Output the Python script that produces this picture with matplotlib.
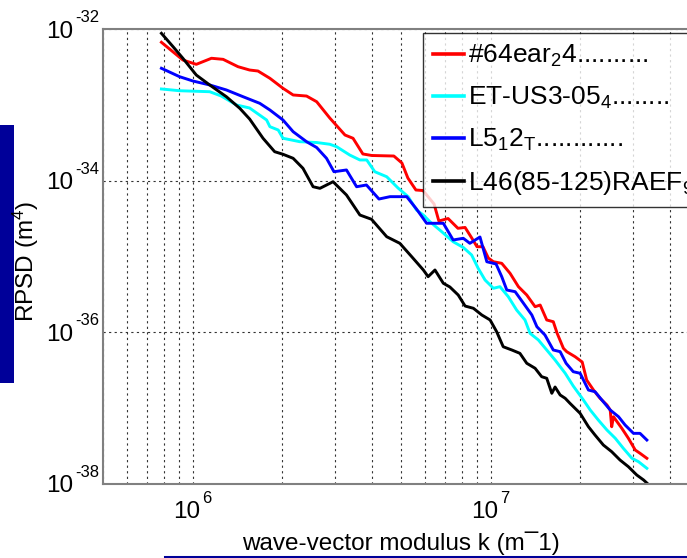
import numpy as np
import matplotlib
matplotlib.use("Agg")
import matplotlib.pyplot as plt
from matplotlib.patches import Rectangle
from matplotlib.lines import Line2D
from matplotlib.ticker import FixedLocator, NullLocator, NullFormatter

plt.rcParams['font.family'] = ['Liberation Sans', 'DejaVu Sans']
plt.rcParams['mathtext.fontset'] = 'custom'
plt.rcParams['mathtext.rm'] = 'Liberation Sans'
plt.rcParams['mathtext.it'] = 'Liberation Sans:italic'
plt.rcParams['mathtext.bf'] = 'Liberation Sans:bold'

# ---- data (log10 of k [1/m] and log10 of RPSD [m^4]) ----
logk_red = [5.895, 5.967, 6.012, 6.063, 6.102, 6.152, 6.191, 6.219, 6.259, 6.303,
            6.337, 6.382, 6.416, 6.460, 6.511, 6.538, 6.571, 6.601, 6.675, 6.702,
            6.722, 6.749, 6.773, 6.810, 6.826, 6.857, 6.890, 6.914, 6.937, 6.954,
            6.974, 6.992, 7.009, 7.037, 7.065, 7.093, 7.121, 7.149, 7.166, 7.188,
            7.210, 7.223, 7.244, 7.255, 7.283, 7.307, 7.322, 7.345, 7.367, 7.390,
            7.401, 7.406, 7.412, 7.440, 7.462, 7.485, 7.501, 7.524]
logp_red = [-32.175, -32.409, -32.466, -32.386, -32.400, -32.497, -32.541, -32.554, -32.650, -32.782,
            -32.870, -32.884, -32.959, -33.174, -33.398, -33.441, -33.648, -33.668, -33.675, -33.767,
            -33.965, -34.123, -34.130, -34.308, -34.532, -34.499, -34.628, -34.617, -34.760, -34.871,
            -34.871, -35.020, -35.069, -35.090, -35.222, -35.398, -35.508, -35.662, -35.640, -35.837,
            -35.860, -36.013, -36.211, -36.255, -36.321, -36.391, -36.629, -36.761, -36.870, -36.958,
            -37.024, -37.245, -37.113, -37.266, -37.397, -37.552, -37.595, -37.661]

logk_cyan = [5.895, 5.956, 6.057, 6.096, 6.147, 6.191, 6.248, 6.259, 6.287, 6.303,
             6.332, 6.359, 6.416, 6.460, 6.483, 6.527, 6.561, 6.584, 6.611, 6.651,
             6.689, 6.723, 6.751, 6.774, 6.796, 6.833, 6.874, 6.908, 6.936, 6.958,
             6.981, 7.009, 7.031, 7.059, 7.087, 7.115, 7.132, 7.160, 7.188, 7.216,
             7.250, 7.277, 7.311, 7.334, 7.361, 7.390, 7.418, 7.445, 7.474, 7.496,
             7.524]
logp_cyan = [-32.791, -32.814, -32.827, -32.884, -33.002, -33.042, -33.200, -33.288, -33.332, -33.441,
             -33.464, -33.486, -33.497, -33.520, -33.552, -33.662, -33.727, -33.727, -33.882, -33.948,
             -34.097, -34.211, -34.387, -34.453, -34.541, -34.664, -34.805, -34.881, -34.980, -35.156,
             -35.310, -35.419, -35.398, -35.530, -35.706, -35.837, -36.013, -36.101, -36.233, -36.365,
             -36.540, -36.708, -36.892, -37.024, -37.156, -37.288, -37.397, -37.529, -37.661, -37.706,
             -37.793]

logk_blue = [5.895, 5.956, 6.001, 6.057, 6.113, 6.169, 6.225, 6.259, 6.303, 6.337,
             6.382, 6.416, 6.449, 6.474, 6.516, 6.550, 6.583, 6.625, 6.662, 6.718,
             6.751, 6.785, 6.841, 6.874, 6.908, 6.930, 6.964, 6.987, 7.018, 7.037,
             7.054, 7.082, 7.110, 7.138, 7.155, 7.182, 7.210, 7.233, 7.253, 7.277,
             7.300, 7.328, 7.350, 7.373, 7.401, 7.429, 7.451, 7.479, 7.501, 7.524]
logp_blue = [-32.518, -32.629, -32.686, -32.738, -32.804, -32.893, -32.980, -33.068, -33.200, -33.354,
             -33.486, -33.563, -33.705, -33.882, -33.859, -34.080, -34.057, -34.242, -34.211, -34.211,
             -34.374, -34.562, -34.562, -34.782, -34.760, -34.826, -34.743, -35.069, -35.099, -35.266,
             -35.442, -35.464, -35.617, -35.771, -35.926, -36.035, -36.233, -36.255, -36.408, -36.519,
             -36.540, -36.761, -36.783, -36.892, -37.024, -37.113, -37.222, -37.332, -37.332, -37.420]

logk_black = [5.895, 5.934, 5.967, 6.012, 6.057, 6.113, 6.158, 6.191, 6.236, 6.275,
              6.303, 6.337, 6.370, 6.404, 6.427, 6.471, 6.516, 6.561, 6.600, 6.651,
              6.695, 6.735, 6.774, 6.790, 6.813, 6.841, 6.863, 6.891, 6.914, 6.942,
              6.970, 6.998, 7.020, 7.042, 7.071, 7.098, 7.121, 7.149, 7.171, 7.188,
              7.205, 7.216, 7.233, 7.250, 7.266, 7.300, 7.328, 7.350, 7.378, 7.406,
              7.434, 7.462, 7.490, 7.513, 7.524]
logp_black = [-32.057, -32.233, -32.386, -32.607, -32.738, -32.893, -33.046, -33.187, -33.441, -33.618,
              -33.652, -33.705, -33.837, -34.080, -34.101, -34.014, -34.189, -34.453, -34.509, -34.739,
              -34.826, -35.003, -35.178, -35.266, -35.178, -35.353, -35.402, -35.508, -35.653, -35.683,
              -35.771, -35.837, -35.992, -36.190, -36.233, -36.277, -36.408, -36.474, -36.585, -36.606,
              -36.804, -36.721, -36.826, -36.870, -36.936, -37.068, -37.245, -37.354, -37.486, -37.574,
              -37.684, -37.772, -37.881, -37.947, -37.987]

series_labels = [r'#64ear$_{2}$4..........',
                 r'ET-US3-05$_{4}$........',
                 r'L5$_{1}$2$_{\mathrm{T}}$............',
                 r'L46(85-125)RAEF$_{9}$...........']
series_colors = ['#ff0000', '#00ffff', '#0000ff', '#000000']

y_ticks = [1e-38, 1e-36, 1e-34, 1e-32]
y_tick_exponents = ['-38', '-36', '-34', '-32']
x_ticks = [1e6, 1e7]
x_tick_exponents = ['6', '7']

# ---- figure ----
W, H = 687, 558
fig = plt.figure(figsize=(W / 100, H / 100), dpi=100)
fig.patch.set_facecolor('white')

ax_l, ax_r, ax_t, ax_b = 103, 699, 29, 484
ax = fig.add_axes([ax_l / W, 1 - ax_b / H, (ax_r - ax_l) / W, (ax_b - ax_t) / H])

all_k = [logk_red, logk_cyan, logk_blue, logk_black]
all_p = [logp_red, logp_cyan, logp_blue, logp_black]
for lk, lp, c, lab in zip(all_k, all_p, series_colors, series_labels):
    ax.plot(10 ** np.array(lk), 10 ** np.array(lp), color=c, lw=2.1, label=lab,
            solid_joinstyle='round')

ax.set_xscale('log')
ax.set_yscale('log')
ax.set_xlim(5e5, 5e7)
ax.set_ylim(1e-38, 1e-32)

ax.yaxis.set_major_locator(FixedLocator(y_ticks))
ax.yaxis.set_major_formatter(NullFormatter())
ax.yaxis.set_minor_locator(NullLocator())
ax.xaxis.set_major_locator(FixedLocator(x_ticks))
ax.xaxis.set_major_formatter(NullFormatter())
xminor = [m * 10 ** e for e in (5, 6, 7) for m in range(2, 10)]
ax.xaxis.set_minor_locator(FixedLocator(xminor))
ax.xaxis.set_minor_formatter(NullFormatter())

# tick labels drawn as base "10" + raised exponent (MATLAB style)
base_fs, exp_fs = 17.5, 12
for v, e in zip(y_ticks, y_tick_exponents):
    ax.annotate('10', xy=(0, v), xycoords=('axes fraction', 'data'),
                xytext=(-30, -8.5), textcoords='offset pixels',
                ha='right', va='baseline', fontsize=base_fs, annotation_clip=False)
    ax.annotate(e, xy=(0, v), xycoords=('axes fraction', 'data'),
                xytext=(-28, 7), textcoords='offset pixels',
                ha='left', va='baseline', fontsize=exp_fs, annotation_clip=False)
for v, e in zip(x_ticks, x_tick_exponents):
    ax.annotate('10', xy=(v, 0), xycoords=('data', 'axes fraction'),
                xytext=(8, -34), textcoords='offset pixels',
                ha='right', va='baseline', fontsize=base_fs, annotation_clip=False)
    ax.annotate(e, xy=(v, 0), xycoords=('data', 'axes fraction'),
                xytext=(9.5, -19), textcoords='offset pixels',
                ha='left', va='baseline', fontsize=exp_fs, annotation_clip=False)

grid_kw = dict(color='#333333', linestyle=(0, (2, 3)), linewidth=0.8)
ax.grid(True, which='both', axis='x', **grid_kw)
ax.grid(True, which='major', axis='y', **grid_kw)
ax.set_axisbelow(True)

for s in ax.spines.values():
    s.set_color('#808080')
    s.set_linewidth(1.5)
ax.tick_params(which='both', direction='in', color='#808080', length=0)

ax.set_xlabel('wave-vector modulus k (m\u00af1)', fontsize=17.5)
ax.xaxis.set_label_coords((401 - ax_l) / (ax_r - ax_l), (ax_b - 531) / (ax_b - ax_t))
ax.set_ylabel(r'RPSD (m$^{4}$)', fontsize=17.5)
ax.yaxis.set_label_coords((41 - ax_l) / (ax_r - ax_l), 0.49)

leg = ax.legend(loc='upper left', bbox_to_anchor=(423 / W, 1 - 33 / H),
                bbox_transform=fig.transFigure, frameon=True, fancybox=False,
                edgecolor='black', fontsize=19, handlelength=1.17,
                handletextpad=0.15, borderpad=0.38, labelspacing=0.6,
                borderaxespad=0)
leg.get_frame().set_linewidth(1.0)
for h in leg.get_lines():
    h.set_linewidth(2.6)

# slide decorations
fig.patches.append(Rectangle((0, 1 - 383 / H), 14 / W, (383 - 125) / H,
                             transform=fig.transFigure, facecolor='#000099',
                             edgecolor='none', zorder=-1))
fig.add_artist(Line2D([165 / W, 1], [1 - 556.5 / H, 1 - 556.5 / H],
                      transform=fig.transFigure, color='#000099', lw=2.2))

fig.savefig('out.png', dpi=100)
